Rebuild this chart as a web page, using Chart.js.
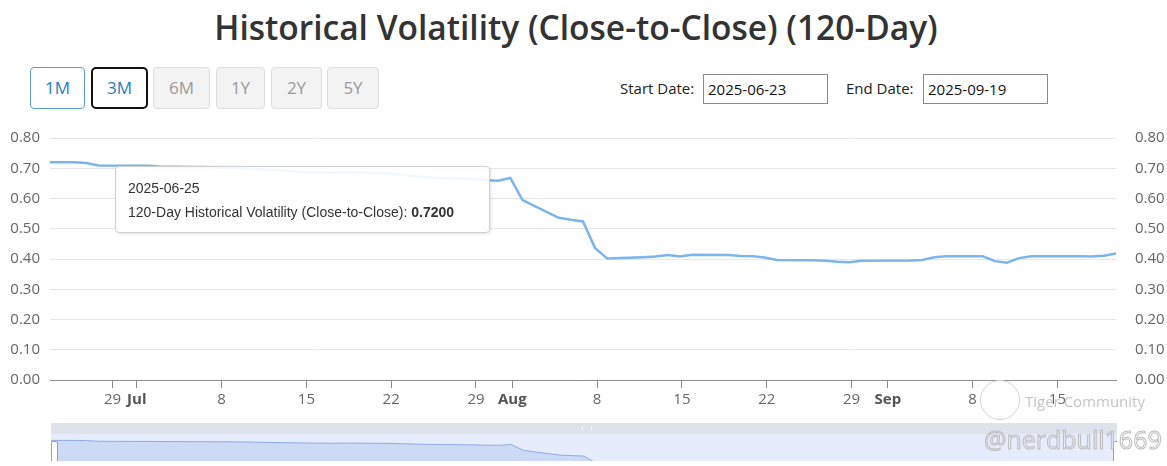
<!DOCTYPE html>
<html>
<head>
<meta charset="utf-8">
<script src="https://cdn.jsdelivr.net/npm/chart.js@4.4.1/dist/chart.umd.min.js"></script>
<style>
  body { margin: 0; width: 1167px; height: 466px; overflow: hidden; background: #fff; font-family: "Open Sans", sans-serif; position: relative; }
  #title { position: absolute; left: 0; top: 4px; width: 1152px; text-align: center; font-size: 33.5px; font-weight: 600; color: #333; }
  .btn { position: absolute; top: 67px; height: 42px; box-sizing: border-box; border-radius: 4px; font-size: 17px; line-height: 40px; text-align: center; }
  .on { background: #fff; border: 1px solid #5b9bd5; color: #2b7bbf; }
  .focus { background: #fff; border: 2px solid #111; color: #2b7bbf; line-height: 38px; border-radius: 5px; }
  .off { background: #f3f3f3; border: 1px solid #dcdcdc; color: #9a9a9a; }
  .lbl { position: absolute; top: 78px; font-size: 15px; color: #222; }
  .box { position: absolute; top: 74px; height: 30px; box-sizing: border-box; border: 1px solid #8a8a8a; font-size: 15px; line-height: 28px; padding-left: 4px; color: #111; }
  #main { position: absolute; left: 0; top: 118px; }
  #navwrap { position: absolute; left: 51px; top: 423px; width: 1066px; height: 38px; overflow: hidden; }
  #scroll { position: absolute; left: 0; top: 0; width: 1066px; height: 11px; background: #dee2ea; }
  #grip { position: absolute; left: 531px; top: 3px; width: 8px; height: 5px; border-left: 1px solid #f4f6fa; border-right: 1px solid #f4f6fa; }
  #nav { position: absolute; left: 0; top: 11px; background: #e6ecfb; }
  .handle { position: absolute; top: 18px; width: 5px; height: 22px; background: #fff; border: 1px solid #a0a0a0; border-radius: 2px; }
  #tip { position: absolute; left: 115px; top: 166px; width: 375px; height: 67px; box-sizing: border-box; background: rgba(255,255,255,0.9); border: 1px solid #d0d0d0; border-radius: 4px; box-shadow: 1px 1px 3px rgba(0,0,0,0.12); font-family: "Liberation Sans", Arial, sans-serif; font-size: 14px; color: #333; padding: 9px 0 0 12px; line-height: 24px; }
  #logo { position: absolute; left: 980px; top: 380px; width: 38px; height: 38px; border: 1.5px solid #d4d4d4; border-radius: 50%; background: transparent; }
  #wm1 { position: absolute; left: 1025px; top: 391px; font-size: 15px; color: #c4c4c4; }
  #wm2 { position: absolute; left: 984px; top: 422px; font-size: 25px; color: transparent; -webkit-text-stroke: 1px #bcbcbc; }
</style>
</head>
<body>
<div id="title">Historical Volatility (Close-to-Close) (120-Day)</div>

<div class="btn on" style="left:30px;width:55px;">1M</div>
<div class="btn focus" style="left:91px;width:57px;">3M</div>
<div class="btn off" style="left:153px;width:57px;">6M</div>
<div class="btn off" style="left:216px;width:49px;">1Y</div>
<div class="btn off" style="left:271px;width:51px;">2Y</div>
<div class="btn off" style="left:327px;width:52px;">5Y</div>

<div class="lbl" style="left:620px;">Start Date:</div>
<div class="box" style="left:703px;width:125px;">2025-06-23</div>
<div class="lbl" style="left:846px;">End Date:</div>
<div class="box" style="left:923px;width:125px;">2025-09-19</div>

<canvas id="main" width="1167" height="302"></canvas>

<div id="navwrap">
  <div id="scroll"><div id="grip"></div></div>
  <canvas id="nav" width="1066" height="40"></canvas>
  <div class="handle" style="left:0;"></div>
  <div class="handle" style="left:1062px;"></div>
</div>

<div id="logo"></div>
<div id="wm1">Tiger Community</div>
<div id="wm2">@nerdbull1669</div>

<script>
var seriesName = '120-Day Historical Volatility (Close-to-Close)';

var dates = [
  '2025-06-23', '2025-06-24', '2025-06-25', '2025-06-26', '2025-06-27',
  '2025-06-30', '2025-07-01', '2025-07-02', '2025-07-03',
  '2025-07-07', '2025-07-08', '2025-07-09', '2025-07-10', '2025-07-11',
  '2025-07-14', '2025-07-15', '2025-07-16', '2025-07-17', '2025-07-18',
  '2025-07-21', '2025-07-22', '2025-07-23', '2025-07-24', '2025-07-25',
  '2025-07-28', '2025-07-29', '2025-07-30', '2025-07-31', '2025-08-01',
  '2025-08-04', '2025-08-05', '2025-08-06', '2025-08-07', '2025-08-08',
  '2025-08-11', '2025-08-12', '2025-08-13', '2025-08-14', '2025-08-15',
  '2025-08-18', '2025-08-19', '2025-08-20', '2025-08-21', '2025-08-22',
  '2025-08-25', '2025-08-26', '2025-08-27', '2025-08-28', '2025-08-29',
  '2025-09-02', '2025-09-03', '2025-09-04', '2025-09-05',
  '2025-09-08', '2025-09-09', '2025-09-10', '2025-09-11', '2025-09-12',
  '2025-09-15', '2025-09-16', '2025-09-17', '2025-09-18', '2025-09-19'
];

var vols = [
  0.720, 0.720, 0.720, 0.717, 0.709,
  0.708, 0.708, 0.706, 0.705,
  0.703, 0.702, 0.700, 0.697, 0.694,
  0.688, 0.686, 0.685, 0.686, 0.686,
  0.683, 0.678, 0.674, 0.671, 0.668,
  0.664, 0.660, 0.659, 0.668, 0.595,
  0.536, 0.530, 0.524, 0.436, 0.402,
  0.406, 0.408, 0.413, 0.408, 0.414,
  0.413, 0.410, 0.409, 0.405, 0.397,
  0.396, 0.394, 0.391, 0.389, 0.394,
  0.395, 0.397, 0.406, 0.409,
  0.409, 0.393, 0.388, 0.403, 0.409,
  0.409, 0.409, 0.408, 0.411, 0.418
];

var tickDates = ['2025-06-29', '2025-07-01', '2025-07-08', '2025-07-15', '2025-07-22', '2025-07-29',
  '2025-08-01', '2025-08-08', '2025-08-15', '2025-08-22', '2025-08-29', '2025-09-01', '2025-09-08', '2025-09-15'];
var tickLabels = ['29', 'Jul', '8', '15', '22', '29', 'Aug', '8', '15', '22', '29', 'Sep', '8', '15'];
var monthLabels = ['Jul', 'Aug', 'Sep'];

var hoverDate = '2025-06-25';

// daily closes are stamped at 20:00 UTC, ticks sit on midnight
var closeOffset = 20 / 24;

function dayNum(s) {
    var p = s.split('-');
    return Date.UTC(+p[0], p[1] - 1, +p[2]) / 86400000;
}

var points = dates.map(function (d, i) { return { x: dayNum(d) + closeOffset, y: vols[i] }; });
var xMin = points[0].x, xMax = points[points.length - 1].x;

var axisFont = { family: '"Open Sans", sans-serif', size: 15 };

function showTip(context) {
    var tt = context.tooltip;
    var el = document.getElementById('tip');
    if (!el) {
        el = document.createElement('div');
        el.id = 'tip';
        document.body.appendChild(el);
    }
    if (tt.opacity === 0 || !tt.dataPoints || !tt.dataPoints.length) return;
    var dp = tt.dataPoints[0];
    el.innerHTML = dates[dp.dataIndex] + '<br>' + dp.dataset.label + ': <b>' + dp.parsed.y.toFixed(4) + '</b>';
}

var chart = new Chart(document.getElementById('main').getContext('2d'), {
    type: 'line',
    data: {
        datasets: [{
            label: seriesName,
            data: points,
            borderColor: '#7cb5ec',
            borderWidth: 2.5,
            pointRadius: 0,
            pointHoverRadius: 0,
            tension: 0,
            fill: false
        }]
    },
    options: {
        responsive: false,
        animation: false,
        layout: { padding: { top: 14 } },
        plugins: {
            legend: { display: false },
            tooltip: { enabled: false, external: showTip, mode: 'nearest', intersect: false }
        },
        scales: {
            x: {
                type: 'linear',
                min: xMin,
                max: xMax,
                afterBuildTicks: function (s) {
                    s.ticks = tickDates.map(function (d) { return { value: dayNum(d) }; });
                },
                afterFit: function (s) { s.height = 40; },
                ticks: {
                    autoSkip: false,
                    maxRotation: 0,
                    padding: 3,
                    color: function (c) { return monthLabels.indexOf(tickLabels[c.index]) >= 0 ? '#555' : '#666'; },
                    font: function (c) {
                        var bold = monthLabels.indexOf(tickLabels[c.index]) >= 0;
                        return { family: '"Open Sans", sans-serif', size: 15, weight: bold ? 'bold' : 'normal' };
                    },
                    callback: function (v, i) { return tickLabels[i]; }
                },
                grid: { drawOnChartArea: false, drawTicks: true, tickLength: 8, color: '#8c8c8c' },
                border: { color: '#8c8c8c' }
            },
            y: {
                position: 'left',
                min: 0,
                max: 0.8,
                afterFit: function (s) { s.width = 50; },
                ticks: { stepSize: 0.1, padding: 10, color: '#666', font: axisFont, callback: function (v) { return v.toFixed(2); } },
                grid: { color: '#e6e6e6', drawTicks: false },
                border: { display: false }
            },
            y2: {
                position: 'right',
                min: 0,
                max: 0.8,
                afterFit: function (s) { s.width = 51; },
                ticks: { stepSize: 0.1, padding: 11, color: '#666', font: axisFont, callback: function (v) { return v.toFixed(2); } },
                grid: { display: false },
                border: { display: false }
            }
        }
    }
});

chart.tooltip.setActiveElements([{ datasetIndex: 0, index: dates.indexOf(hoverDate) }], { x: 74, y: 160 });
chart.update();

// navigator strip under the main plot
new Chart(document.getElementById('nav').getContext('2d'), {
    type: 'line',
    data: {
        datasets: [{
            data: points,
            borderColor: '#8eaae6',
            borderWidth: 1,
            backgroundColor: '#ccdaf6',
            fill: 'start',
            pointRadius: 0,
            tension: 0
        }]
    },
    options: {
        responsive: false,
        animation: false,
        events: [],
        plugins: { legend: { display: false }, tooltip: { enabled: false } },
        scales: {
            x: { type: 'linear', min: xMin, max: xMax, display: false },
            y: { min: 0.3, max: 0.8, display: false }
        }
    }
});
</script>
</body>
</html>
